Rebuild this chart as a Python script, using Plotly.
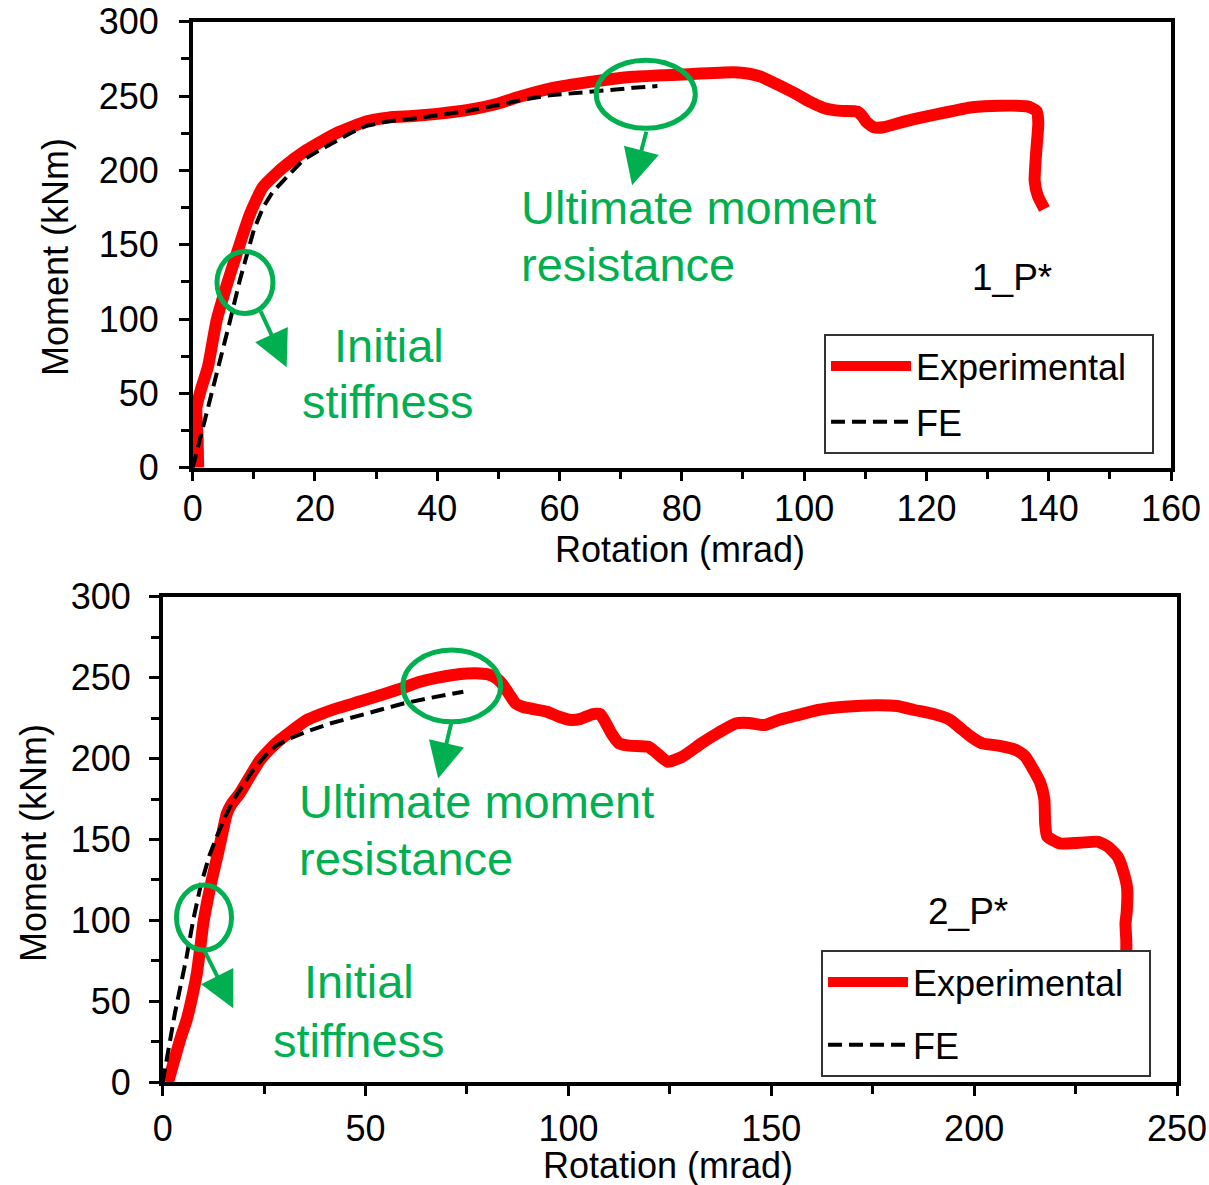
import plotly.graph_objects as go

# ---- Specimen 1_P* : moment-rotation ----
exp1_rot = [0.9, 0.8, 0.6, 1.3, 2.5, 3.9, 5.8, 7.2, 9.4, 11.5, 14.8, 18.6, 23.5, 28.5, 32, 36, 40,
            44.8, 50, 53, 58.4, 65, 72, 80, 88.5, 91, 92.9, 95, 98.4, 101, 103.2, 106, 108.7,
            109.6, 110.2, 111.4, 113, 117, 122, 127.5, 132, 136.5, 138, 138.3, 138, 137.7, 138.2, 139.3]
exp1_mom = [0, 20, 40, 52, 68, 99, 126, 144, 171, 189, 202, 213.6, 225, 233, 235.5, 236.5, 238,
            240.5, 245, 249, 255, 259.5, 263, 264.5, 266, 265, 263, 259, 252, 246, 242, 240, 239.5,
            236, 232.5, 229, 229, 233.5, 238, 242.5, 243.5, 243, 240, 232, 215, 193, 183, 174]

fe1_rot = [0, 2, 4, 6, 7.7, 8.8, 10, 11.5, 13, 14.8, 16.5, 18.1, 20.5, 23.5, 26, 28.5, 32, 36.6,
           41, 45, 50, 54, 58.4, 63, 68, 72, 76]
fe1_mom = [0, 32, 64, 97, 126, 143, 160, 175, 185, 193, 200, 207, 213, 220, 225.5, 230, 233, 235,
           237.5, 240, 244, 247.5, 250.5, 252.5, 254, 255.5, 256.7]

# ---- Specimen 2_P* : moment-rotation ----
exp2_rot = [1.3, 3, 4.5, 5.9, 7.2, 8.4, 9.2, 10, 11, 12.1, 13.5, 14.8, 15.8, 17, 19, 21.5, 24, 26.5,
            28.9, 32, 35.5, 39, 42.9, 49, 55.2, 59, 63.4, 67.5, 71.6, 75, 78.2, 80.3, 82.3, 84, 85.6,
            87, 88.7, 91.5, 94.7, 97.5, 100.6, 103, 106, 107.8, 109, 110.5, 112.5, 115, 119.7, 121.5,
            124.5, 128, 132.8, 137, 141.2, 144.5, 148.3, 152, 156, 161.5, 168, 175.7, 181, 185.3, 190,
            194, 197.2, 199.5, 202, 206, 210.3, 212.5, 215.1, 216.3, 217.3, 217.5, 218, 221.1, 226,
            230.6, 233, 235.4, 236.8, 237.7, 237.6, 237.3, 237.5, 237.5]
exp2_mom = [0, 15, 28, 38.5, 52, 67, 82, 98, 112, 125, 140, 155, 166, 172, 178.5, 189, 199, 206,
            211.5, 217.5, 223.8, 227.5, 231, 235.5, 240.3, 243.5, 247.4, 249.8, 251.6, 252.5, 252.6,
            252, 249.5, 245, 239, 234, 232, 230.5, 229, 226, 223.8, 224.5, 227.5, 227.5, 223, 216,
            209.4, 208, 207.3, 204, 198, 201, 209.4, 216, 221.7, 222, 220.7, 224, 226.5, 230, 232,
            233, 232.5, 230, 227.5, 224, 217.6, 213, 209.4, 208, 205.3, 201.5, 190.9, 185, 175, 160,
            152, 147.6, 148, 148.6, 145.5, 139.3, 130, 120, 105, 98, 88, 78]

fe2_rot = [0, 3, 5.9, 7.5, 9.4, 11.5, 13.3, 15.2, 17.4, 20, 22.3, 25, 28.1, 31.5, 35.5, 41, 47, 53,
           59.3, 66, 70, 74.1]
fe2_mom = [0, 42.6, 77.6, 100, 122, 140, 151.7, 163, 174.4, 184, 193, 201, 208.3, 212.5, 216.6,
           221.5, 225.8, 230, 234, 237.5, 239.5, 241.3]

series_names = ["Experimental", "FE"]
specimen_labels = ["1_P*", "2_P*"]
annot_initial = ["Initial", "stiffness"]
annot_ultimate = ["Ultimate moment", "resistance"]
x_title = "Rotation (mrad)"
y_title = "Moment (kNm)"

RED = "#FF0000"
GREEN = "#00B050"
FONT = "Arial, Liberation Sans, sans-serif"
W, H = 1209, 1185

fig = go.Figure()

exp_line = dict(color=RED, width=12, shape="spline", smoothing=0.5)
fe_line = dict(color="black", width=4, dash="14px,7px")
# padding after the label widens the legend frame a little
exp_label = series_names[0] + "\u00a0\u00a0"

fig.add_trace(go.Scatter(x=exp1_rot, y=exp1_mom, mode="lines", name=exp_label, line=exp_line,
                         xaxis="x", yaxis="y", legend="legend", legendgroup="e1"))
fig.add_trace(go.Scatter(x=fe1_rot, y=fe1_mom, mode="lines", name=series_names[1], line=fe_line,
                         xaxis="x", yaxis="y", legend="legend", legendgroup="f1"))
fig.add_trace(go.Scatter(x=exp2_rot, y=exp2_mom, mode="lines", name=exp_label, line=exp_line,
                         xaxis="x2", yaxis="y2", legend="legend2", legendgroup="e2"))
fig.add_trace(go.Scatter(x=fe2_rot, y=fe2_mom, mode="lines", name=series_names[1], line=fe_line,
                         xaxis="x2", yaxis="y2", legend="legend2", legendgroup="f2"))


def px_x(p):
    return p / W


def px_y(p):
    return 1 - p / H


tickfont = dict(family=FONT, size=36, color="black")


def xaxis_cfg(domain, rng, dtick, minor_dtick, anchor, standoff):
    return dict(domain=domain, range=rng, dtick=dtick, tick0=0, anchor=anchor, automargin=False,
                showgrid=False, zeroline=False, showline=True, mirror=True,
                linecolor="black", linewidth=3.5, ticks="outside", ticklen=10,
                tickwidth=3, tickcolor="black", tickfont=tickfont,
                ticklabelstandoff=standoff,
                minor=dict(dtick=minor_dtick, tick0=0, ticks="outside", ticklen=8,
                           tickwidth=3, tickcolor="black", showgrid=False))


def yaxis_cfg(domain, anchor, standoff):
    return dict(domain=domain, range=[0, 300], dtick=50, tick0=0, anchor=anchor, automargin=False,
                showgrid=False, zeroline=False, showline=True, mirror=True,
                linecolor="black", linewidth=3.5, ticks="outside", ticklen=10,
                tickwidth=3, tickcolor="black", tickfont=tickfont,
                ticklabelstandoff=standoff,
                minor=dict(dtick=25, tick0=0, ticks="outside", ticklen=8,
                           tickwidth=3, tickcolor="black", showgrid=False))


legend_common = dict(font=dict(family=FONT, size=36, color="black"), bgcolor="white",
                     bordercolor="#333333", borderwidth=2, xanchor="left", yanchor="top",
                     itemwidth=80, traceorder="grouped")

fig.update_layout(
    template="none",
    width=W, height=H, margin=dict(l=0, r=0, t=0, b=0, autoexpand=False),
    paper_bgcolor="white", plot_bgcolor="white",
    font=dict(family=FONT, color="black"),
    xaxis=xaxis_cfg([px_x(192.7), px_x(1171)], [0, 160], 20, 10, "y", -4),
    yaxis=yaxis_cfg([px_y(467.7), px_y(21.7)], "x", 13),
    xaxis2=xaxis_cfg([px_x(162.7), px_x(1177)], [0, 250], 50, 25, "y2", 2),
    yaxis2=yaxis_cfg([px_y(1082.3), px_y(596.7)], "x2", 11),
    legend=dict(x=px_x(824), y=px_y(334), tracegroupgap=6, **legend_common),
    legend2=dict(x=px_x(821), y=px_y(950), tracegroupgap=13, **legend_common),
)

annotations = []

# axis titles
for cx, cy in [(680, 549), (668, 1165)]:
    annotations.append(dict(text=x_title, xref="paper", yref="paper", x=px_x(cx), y=px_y(cy),
                            xanchor="center", yanchor="middle", showarrow=False,
                            font=dict(family=FONT, size=36, color="black")))
for cx, cy in [(56, 257), (33, 843)]:
    annotations.append(dict(text=y_title, xref="paper", yref="paper", x=px_x(cx), y=px_y(cy),
                            xanchor="center", yanchor="middle", showarrow=False, textangle=-90,
                            font=dict(family=FONT, size=36, color="black")))

green_font = dict(family=FONT, size=47, color=GREEN)
arrow_style = dict(showarrow=True, arrowhead=2, arrowsize=1.8, arrowwidth=4, arrowcolor=GREEN,
                   standoff=0, startstandoff=0)

# top panel callouts
annotations += [
    dict(text=annot_initial[0], xref="x", yref="y", x=32.1, y=82.5, showarrow=False,
         xanchor="center", yanchor="middle", font=green_font),
    dict(text=annot_initial[1], xref="x", yref="y", x=31.9, y=44.2, showarrow=False,
         xanchor="center", yanchor="middle", font=green_font),
    dict(text=annot_ultimate[0], xref="x", yref="y", x=53.4, y=175.3, showarrow=False,
         xanchor="left", yanchor="middle", font=green_font),
    dict(text=annot_ultimate[1], xref="x", yref="y", x=53.4, y=137.0, showarrow=False,
         xanchor="left", yanchor="middle", font=green_font),
    dict(text=specimen_labels[0], xref="x", yref="y", x=134.0, y=128.2, showarrow=False,
         xanchor="center", yanchor="middle", font=dict(family=FONT, size=37, color="black")),
    dict(text="", xref="x", yref="y", axref="x", ayref="y", x=15.37, y=67.5, ax=11.0, ay=106.1,
         **arrow_style),
    dict(text="", xref="x", yref="y", axref="x", ayref="y", x=71.86, y=190.0, ax=74.26, ay=227.0,
         **arrow_style),
]

# bottom panel callouts
annotations += [
    dict(text=annot_initial[0], xref="x2", yref="y2", x=48.4, y=62.1, showarrow=False,
         xanchor="center", yanchor="middle", font=green_font),
    dict(text=annot_initial[1], xref="x2", yref="y2", x=48.3, y=26.1, showarrow=False,
         xanchor="center", yanchor="middle", font=green_font),
    dict(text=annot_ultimate[0], xref="x2", yref="y2", x=33.0, y=173.3, showarrow=False,
         xanchor="left", yanchor="middle", font=green_font),
    dict(text=annot_ultimate[1], xref="x2", yref="y2", x=33.0, y=138.4, showarrow=False,
         xanchor="left", yanchor="middle", font=green_font),
    dict(text=specimen_labels[1], xref="x2", yref="y2", x=198.5, y=105.4, showarrow=False,
         xanchor="center", yanchor="middle", font=dict(family=FONT, size=37, color="black")),
    dict(text="", xref="x2", yref="y2", axref="x2", ayref="y2", x=17.4, y=45.7, ax=10.0, ay=82.8,
         **arrow_style),
    dict(text="", xref="x2", yref="y2", axref="x2", ayref="y2", x=67.9, y=187.7, ax=71.2, ay=222.7,
         **arrow_style),
]

fig.update_layout(annotations=annotations)

# circles highlighting the initial-stiffness and ultimate-moment regions
circle_line = dict(color=GREEN, width=5)
fig.update_layout(shapes=[
    dict(type="circle", xref="x", yref="y", x0=3.97, x1=13.13, y0=103.7, y1=145.4, line=circle_line),
    dict(type="circle", xref="x", yref="y", x0=66.0, x1=82.2, y0=228.3, y1=274.1, line=circle_line),
    dict(type="circle", xref="x2", yref="y2", x0=3.4, x1=16.96, y0=81.7, y1=121.9, line=circle_line),
    dict(type="circle", xref="x2", yref="y2", x0=59.2, x1=83.3, y0=222.7, y1=267.1, line=circle_line),
])

fig.write_html("out.html")
